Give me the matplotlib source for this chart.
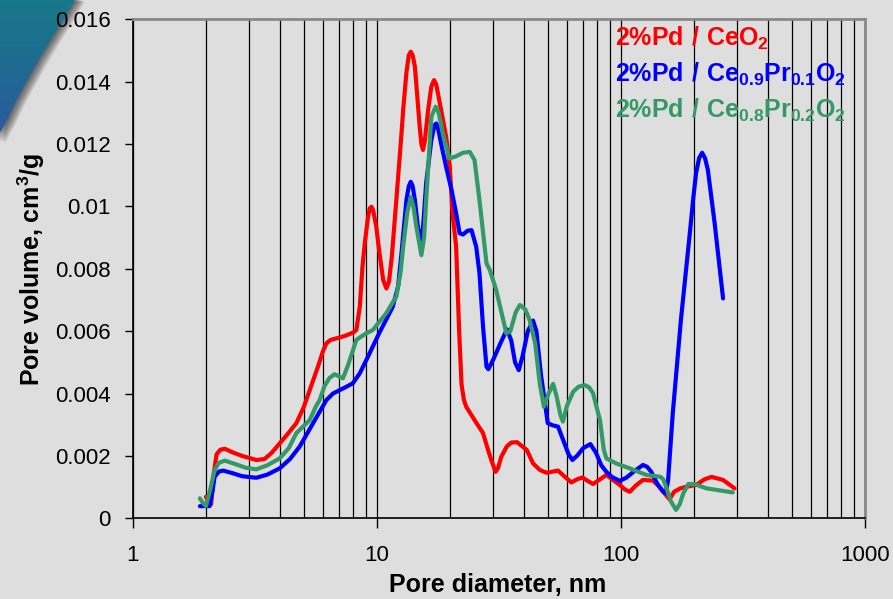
import numpy as np
import matplotlib
matplotlib.use('Agg')
import matplotlib.pyplot as plt
from matplotlib.path import Path
from matplotlib.patches import PathPatch
from matplotlib.colors import LinearSegmentedColormap
from matplotlib.ticker import LogLocator, FixedLocator, NullFormatter, FuncFormatter

plt.rcParams['font.family'] = ['Liberation Sans', 'DejaVu Sans']
plt.rcParams['mathtext.fontset'] = 'custom'
plt.rcParams['mathtext.rm'] = 'Liberation Sans'
plt.rcParams['mathtext.bf'] = 'Liberation Sans:bold'

# pore size distributions: diameter in nm, pore volume in cm3/g
d_ceo2 = [1.99, 2.05, 2.09, 2.14, 2.20, 2.28, 2.38, 2.55, 2.80, 3.20, 3.46, 3.70, 3.99, 4.30,
          4.67, 5.00, 5.30, 5.75, 6.00, 6.20, 6.45, 6.82, 7.40, 8.00, 8.23, 8.50, 8.72, 8.91,
          9.19, 9.34, 9.49, 9.64, 9.93, 10.2, 10.6, 10.93, 11.2, 11.5, 12.0, 12.6, 12.8, 13.2,
          13.5, 13.75, 14.0, 14.3, 14.96, 15.2, 15.44, 15.7, 16.2, 16.7, 17.13, 17.5, 18.1,
          19.2, 19.86, 20.4, 21.1, 21.7, 22.2, 22.7, 23.2, 25.1, 27.2, 28.5, 29.4, 30.6, 31.3,
          32.3, 34.0, 35.5, 37.5, 39.5, 41.1, 43.6, 46.5, 49.5, 55.2, 58.5, 62.6, 66.0, 69.5,
          73.0, 76.8, 82.0, 87.1, 93.0, 98.8, 104, 108.6, 115, 123, 135, 142, 149, 158, 165,
          175, 185, 203, 220, 235, 262, 292]
v_ceo2 = [0.00069, 0.00047, 0.00045, 0.00140, 0.00205, 0.00220, 0.00223, 0.00212, 0.00200,
          0.00187, 0.00190, 0.00210, 0.00240, 0.00270, 0.00305, 0.00355, 0.00411, 0.00490,
          0.00535, 0.00561, 0.00572, 0.00577, 0.00585, 0.00596, 0.00604, 0.00678, 0.00807,
          0.00882, 0.00967, 0.00994, 0.00999, 0.00988, 0.00935, 0.00860, 0.00764, 0.00737,
          0.00759, 0.00839, 0.01020, 0.01234, 0.01309, 0.01430, 0.01485, 0.01496, 0.01485,
          0.01448, 0.01256, 0.01200, 0.01181, 0.01210, 0.01309, 0.01385, 0.01405, 0.01390,
          0.01330, 0.01224, 0.01130, 0.00978, 0.00871, 0.00604, 0.00430, 0.00380, 0.00358,
          0.00315, 0.00273, 0.00220, 0.00187, 0.00149, 0.00160, 0.00197, 0.00230, 0.00243,
          0.00244, 0.00230, 0.00219, 0.00176, 0.00155, 0.00146, 0.00153, 0.00135, 0.00115,
          0.00125, 0.00131, 0.00120, 0.00110, 0.00125, 0.00139, 0.00122, 0.00107, 0.00092,
          0.00085, 0.00105, 0.00123, 0.00121, 0.00105, 0.00085, 0.00061, 0.00085, 0.00096,
          0.00101, 0.00107, 0.00125, 0.00133, 0.00123, 0.00096]

d_pr01 = [1.88, 2.06, 2.12, 2.16, 2.25, 2.34, 2.55, 2.80, 3.20, 3.55, 3.99, 4.40, 4.82, 5.47,
          6.20, 6.60, 7.03, 7.50, 7.96, 8.50, 9.05, 10.2, 11.6, 12.2, 12.6, 13.2, 13.5, 13.75,
          14.0, 14.3, 14.7, 15.0, 15.2, 15.5, 15.9, 16.7, 17.2, 17.5, 17.8, 18.3, 19.2, 20.2,
          21.1, 21.8, 22.5, 23.5, 24.4, 25.5, 26.3, 27.2, 28.1, 28.6, 30.0, 32.0, 34.1, 35.5,
          36.8, 38.1, 39.5, 41.5, 43.6, 45.0, 47.0, 50.1, 52.5, 55.2, 58.0, 61.0, 63.2, 66.0,
          70.0, 74.9, 79.0, 83.0, 87.1, 92.0, 98.8, 105, 113, 123, 128, 133, 141, 149, 152.5,
          156, 163, 176, 192, 198, 203, 209, 215, 221, 227, 242, 262]
v_pr01 = [0.00039, 0.00039, 0.00090, 0.00133, 0.00150, 0.00153, 0.00145, 0.00135, 0.00130,
          0.00140, 0.00160, 0.00190, 0.00230, 0.00305, 0.00379, 0.00400, 0.00411, 0.00422,
          0.00433, 0.00465, 0.00508, 0.00593, 0.00678, 0.00743, 0.00850, 0.01020, 0.01065,
          0.01079, 0.01065, 0.01020, 0.00935, 0.00895, 0.00887, 0.00950, 0.01074, 0.01213,
          0.01260, 0.01266, 0.01250, 0.01202, 0.01127, 0.01053, 0.00978, 0.00914, 0.00910,
          0.00922, 0.00924, 0.00871, 0.00786, 0.00614, 0.00486, 0.00478, 0.00510, 0.00560,
          0.00606, 0.00570, 0.00500, 0.00475, 0.00520, 0.00600, 0.00634, 0.00600, 0.00460,
          0.00305, 0.00298, 0.00294, 0.00250, 0.00205, 0.00187, 0.00200, 0.00225, 0.00238,
          0.00210, 0.00170, 0.00149, 0.00132, 0.00120, 0.00130, 0.00150, 0.00171, 0.00165,
          0.00149, 0.00110, 0.00085, 0.00080, 0.00123, 0.00337, 0.00636, 0.00924, 0.01030,
          0.01106, 0.01155, 0.01172, 0.01155, 0.01117, 0.00946, 0.00705]

d_pr02 = [1.88, 1.93, 1.99, 2.07, 2.16, 2.25, 2.38, 2.60, 2.90, 3.20, 3.55, 3.99, 4.35, 4.67,
          5.30, 5.63, 5.82, 6.10, 6.39, 6.70, 7.25, 7.60, 8.23, 8.90, 9.62, 10.9, 12.0, 12.5,
          12.8, 13.3, 13.75, 14.1, 14.5, 15.2, 15.6, 15.9, 16.7, 17.4, 17.9, 18.6, 19.8, 21.0,
          22.5, 24.0, 25.1, 26.3, 28.1, 29.0, 30.8, 33.9, 35.2, 37.0, 38.5, 40.5, 42.2, 44.5,
          46.5, 48.3, 50.5, 52.7, 54.5, 56.5, 57.8, 60.0, 63.7, 67.0, 71.0, 74.0, 76.8, 82.0,
          85.0, 87.1, 95.5, 108.6, 127, 145, 149, 153, 160, 168, 174, 180, 189, 200, 224, 287]
v_pr02 = [0.00064, 0.00050, 0.00039, 0.00090, 0.00155, 0.00178, 0.00185, 0.00175, 0.00162,
          0.00157, 0.00170, 0.00192, 0.00225, 0.00273, 0.00315, 0.00360, 0.00379, 0.00425,
          0.00450, 0.00462, 0.00449, 0.00490, 0.00572, 0.00590, 0.00604, 0.00657, 0.00711,
          0.00790, 0.00871, 0.00980, 0.01031, 0.01000, 0.00935, 0.00844, 0.00900, 0.01020,
          0.01288, 0.01320, 0.01300, 0.01234, 0.01154, 0.01160, 0.01172, 0.01175, 0.01149,
          0.01020, 0.00818, 0.00796, 0.00732, 0.00593, 0.00600, 0.00660, 0.00684, 0.00670,
          0.00636, 0.00560, 0.00430, 0.00358, 0.00400, 0.00431, 0.00390, 0.00330, 0.00310,
          0.00360, 0.00406, 0.00422, 0.00427, 0.00420, 0.00401, 0.00315, 0.00220, 0.00192,
          0.00176, 0.00160, 0.00139, 0.00133, 0.00125, 0.00101, 0.00055, 0.00027, 0.00045,
          0.00080, 0.00110, 0.00110, 0.00096, 0.00083]

series_names = [r'$\mathbf{2\%Pd\ /\ CeO_{2}}$',
                r'$\mathbf{2\%Pd\ /\ Ce_{0.9}Pr_{0.1}O_{2}}$',
                r'$\mathbf{2\%Pd\ /\ Ce_{0.8}Pr_{0.2}O_{2}}$']
series_colors = ['#ff0000', '#0000ff', '#339966']
y_ticks = [0, 0.002, 0.004, 0.006, 0.008, 0.01, 0.012, 0.014, 0.016]

bg = '#dedede'
fig = plt.figure(figsize=(8.93, 5.99), dpi=100, facecolor=bg)

# slide ornament in the upper left corner
deco = fig.add_axes([0, 0, 1, 1], zorder=-1)
deco.set_xlim(0, 893)
deco.set_ylim(599, 0)
deco.axis('off')
edge = [(76, -2), (63, 20), (50, 41), (38, 61), (27, 81), (16, 101), (7, 120), (-4, 140)]
shape = edge + [(-4, -2)]
for k in range(10, 0, -1):
    shifted = [(x + k * 0.9, y + k * 0.35) for x, y in shape]
    deco.fill([p[0] for p in shifted], [p[1] for p in shifted], color='black',
              alpha=0.07, lw=0)
grad = np.linspace(0, 1, 200)[:, None] * np.ones((1, 100))
slide_cmap = LinearSegmentedColormap.from_list('slide', ['#17798a', '#1f6a92', '#2d58a0'])
img = deco.imshow(grad, extent=[-4, 80, 140, -2], cmap=slide_cmap, aspect='auto', zorder=2)
clip = PathPatch(Path(shape + [shape[0]]), transform=deco.transData,
                 facecolor='none', edgecolor='none')
deco.add_patch(clip)
img.set_clip_path(clip)

ax = fig.add_axes([133 / 893, 1 - 518.3 / 599, 732 / 893, 499 / 599])
ax.set_facecolor(bg)

for d, v, c in zip([d_ceo2, d_pr01, d_pr02], [v_ceo2, v_pr01, v_pr02], series_colors):
    ax.plot(d, v, color=c, lw=3, solid_joinstyle='round', solid_capstyle='round', zorder=3)

ax.set_xscale('log')
ax.set_xlim(1, 1000)
ax.set_ylim(0, 0.016)
ax.xaxis.set_major_locator(FixedLocator([1, 10, 100, 1000]))
ax.xaxis.set_major_formatter(FuncFormatter(lambda x, p: f'{x:g}'))
ax.xaxis.set_minor_locator(LogLocator(base=10, subs=np.arange(2, 10)))
ax.xaxis.set_minor_formatter(NullFormatter())
ax.set_yticks(y_ticks)
ax.yaxis.set_major_formatter(FuncFormatter(lambda y, p: f'{y:g}'))

ax.grid(True, which='both', axis='x', color='black', lw=0.9)
ax.set_axisbelow(True)

ax.tick_params(axis='x', which='major', direction='out', length=7, width=1, labelsize=16, pad=12)
ax.tick_params(axis='x', which='minor', length=0)
ax.tick_params(axis='y', direction='out', length=6, width=1, labelsize=16, pad=10)
for side in ['left', 'bottom']:
    ax.spines[side].set_color('black')
    ax.spines[side].set_linewidth(1.2)
for side in ['top', 'right']:
    ax.spines[side].set_color('#888888')
    ax.spines[side].set_linewidth(2)

fig.text(498 / 893, 1 - 585 / 599, 'Pore diameter, nm', fontsize=18, fontweight='bold',
         ha='center', va='center')
fig.text(31 / 893, 1 - 269 / 599, r'Pore volume, cm$^\mathbf{3}$/g', fontsize=18,
         fontweight='bold', rotation=90, ha='center', va='center')

for i, (name, c) in enumerate(zip(series_names, series_colors)):
    ax.text(615 / 893, 1 - (46 + 36 * i) / 599, name, transform=fig.transFigure,
            color=c, fontsize=18, ha='left', va='baseline')

fig.savefig('out.png', dpi=100, facecolor=bg)
